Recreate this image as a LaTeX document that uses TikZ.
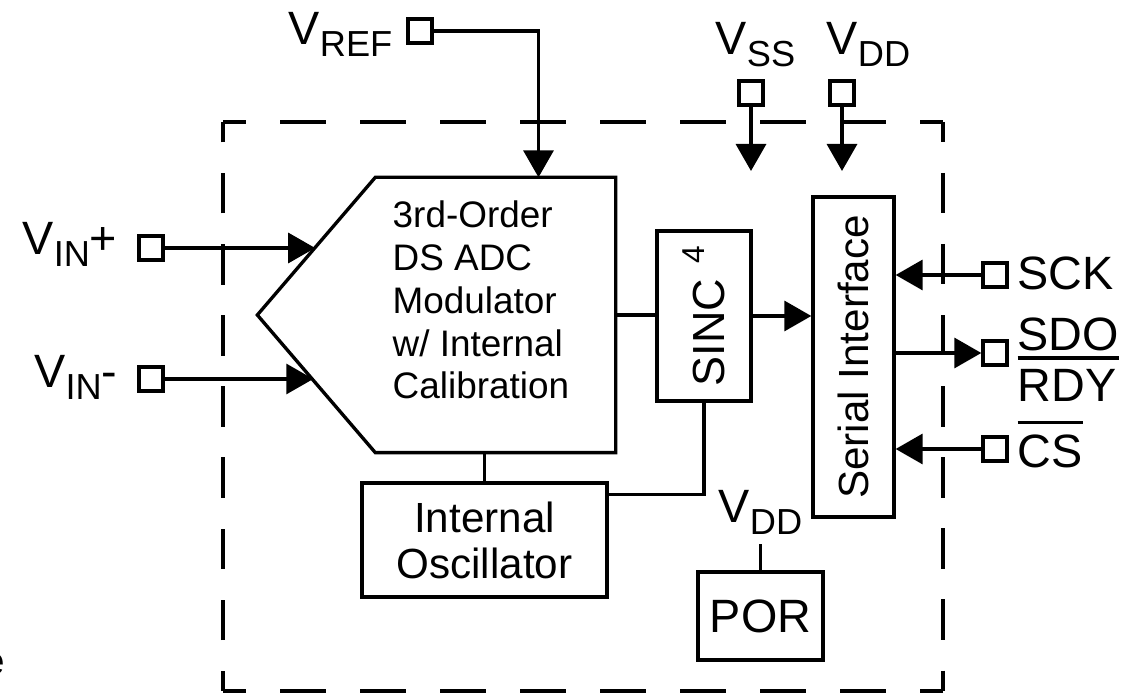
\documentclass[tikz,border=0pt]{standalone}
\usepackage{fontspec}
\setmainfont{Liberation Sans}
\usetikzlibrary{arrows.meta,positioning,calc}
\newcommand{\lsub}[1]{\raisebox{-3.4pt}{\fontsize{10.3}{12}\selectfont #1}}

\begin{document}
\begin{tikzpicture}[
  blk/.style={draw, line width=0.95pt, inner sep=0pt, align=center, font=\fontsize{12}{13.1}\selectfont},
  padsq/.style={draw, line width=0.95pt, minimum size=0.24cm, inner sep=0pt},
  lbl/.style={inner sep=0pt, font=\fontsize{13.3}{16}\selectfont},
  wire/.style={line width=0.95pt},
  arr/.style={-{Triangle[length=0.27cm, width=0.30cm]}, line width=0.95pt},
  frameh/.style={line width=0.9pt, dash pattern=on 0.454cm off 0.346cm, dash phase=0.227cm},
  framev/.style={line width=0.9pt, dash pattern=on 0.404cm off 0.307cm, dash phase=0.202cm}
]
  \useasboundingbox (0,0) rectangle (11.22,6.93);

  % dashed chip outline
  \draw[frameh] (2.23,5.71) -- (9.43,5.71);
  \draw[framev] (9.43,5.71) -- (9.43,0.02);
  \draw[frameh] (9.43,0.02) -- (2.23,0.02);
  \draw[framev] (2.23,0.02) -- (2.23,5.71);

  % modulator
  \node[blk, draw=none, minimum width=2.37cm, minimum height=2.72cm] (mod) at (4.955,3.78) {};
  \coordinate (ptip) at ([xshift=-1.18cm]mod.west);
  \draw[wire] (mod.north west) -- (mod.north east) -- (mod.south east) -- (mod.south west) -- (ptip) -- cycle;
  \node[anchor=north west, inner sep=0pt, align=left, font=\fontsize{10.5}{12.2}\selectfont] (modtxt) at (3.92,4.93)
    {3rd-Order\\DS ADC\\Modulator\\w/ Internal\\Calibration};

  % blocks
  \node[blk, minimum width=0.94cm, minimum height=1.70cm, font=\fontsize{12.8}{14}\selectfont] (sinc) at (7.04,3.77)
    {\rotatebox{90}{SINC\hspace{4.5pt}\raisebox{5.6pt}{\fontsize{9}{10}\selectfont 4}}};
  \node[blk, minimum width=0.81cm, minimum height=3.20cm] (ser) at (8.535,3.36) {\rotatebox{90}{Serial Interface}};
  \node[blk, minimum width=2.45cm, minimum height=1.14cm] (osc) at (4.845,1.53) {Internal\\Oscillator};
  \node[blk, minimum width=1.25cm, minimum height=0.88cm, font=\fontsize{13.3}{16}\selectfont] (por) at (7.605,0.77) {POR};
  \node[lbl, above=0.35cm of por] (vddpor) {V\lsub{DD}};

  % pins
  \node[padsq] (vref) at (4.20,6.62) {};
  \node[padsq] (vinp) at (1.51,4.45) {};
  \node[padsq] (vinm) at (1.51,3.14) {};
  \node[padsq] (vss) at (7.51,6.00) {};
  \node[padsq] (vdd) at (8.42,6.00) {};
  \node[padsq] (sck) at (9.95,4.18) {};
  \node[padsq] (sdo) at (9.95,3.40) {};
  \node[padsq] (cs) at (9.95,2.44) {};

  % pin labels
  \node[lbl, anchor=base west] (vreflbl) at (2.88,6.48) {V\lsub{REF}};
  \node[lbl, anchor=base east] (vinplbl) at (1.18,4.38) {V\lsub{IN}+};
  \node[lbl, anchor=base east] (vinmlbl) at (1.18,3.05) {V\lsub{IN}-};
  \node[lbl, anchor=base west] (vsslbl) at (7.15,6.38) {V\lsub{SS}};
  \node[lbl, anchor=base west] (vddlbl) at (8.26,6.38) {V\lsub{DD}};
  \node[lbl, anchor=base west] (scklbl) at (10.17,4.03) {SCK};
  \node[lbl, anchor=base west] (sdolbl) at (10.17,2.91)
    {\vbox{\hbox{SDO}\kern1.4pt\hrule height 0.95pt\kern2.9pt\hbox{RDY}}};
  \node[lbl, anchor=base west] (cslbl) at (10.17,2.25) {\vbox{\hrule height 0.95pt\kern3.2pt\hbox{CS}}};
  \node[anchor=base east, inner sep=0pt, font=\fontsize{11}{13}\selectfont] (cutlbl) at (0.06,0.18) {e};

  % connections
  \coordinate (inp) at ($(ptip)!0.49!(mod.north west)$);
  \coordinate (inm) at ($(ptip)!0.474!(mod.south west)$);
  \coordinate (vssend) at (7.51,5.22);
  \coordinate (vddend) at (8.42,5.22);
  \draw[arr] (vref.east) -| ([xshift=0.43cm]mod.north);
  \draw[arr] (vinp.east) -- (vinp.east -| inp);
  \draw[arr] (vinm.east) -- (vinm.east -| inm);
  \draw[arr] (vss.south) -- (vssend);
  \draw[arr] (vdd.south) -- (vddend);
  \draw[arr] (sck.west) -- (sck.west -| ser.east);
  \draw[arr] (ser.east |- sdo.west) -- (sdo.west);
  \draw[arr] (cs.west) -- (cs.west -| ser.east);
  \draw[wire] (mod.east) -- (mod.east -| sinc.west);
  \draw[arr] (sinc.east) -- (sinc.east -| ser.west);
  \draw[wire] (sinc.south) |- ([yshift=-0.13cm]osc.north east);
  \draw[wire] (mod.south -| osc.north) -- (osc.north);
  \draw[wire] (por.north) -- ([yshift=-0.09cm]vddpor.south);
\end{tikzpicture}
\end{document}
